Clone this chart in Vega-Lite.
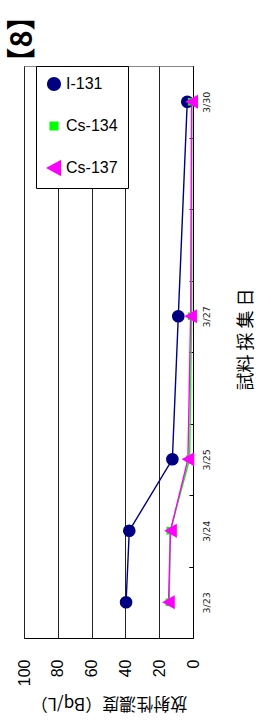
{
  "$schema": "https://vega.github.io/schema/vega-lite/v6.json",
  "autosize": "none",
  "width": 169,
  "height": 572,
  "padding": {"left": 24, "top": 66, "right": 78, "bottom": 82},
  "background": "white",
  "title": {
    "text": "【8】",
    "orient": "top",
    "anchor": "start",
    "angle": -90,
    "align": "right",
    "baseline": "middle",
    "offset": 6,
    "dx": -17,
    "dy": 7,
    "font": "Noto Sans CJK JP",
    "fontSize": 29,
    "fontWeight": "bold",
    "color": "black"
  },
  "data": {
    "values": [
      {"series": "I-131", "date": "3/23", "value": 39.6},
      {"series": "I-131", "date": "3/24", "value": 37.7},
      {"series": "I-131", "date": "3/25", "value": 12.2},
      {"series": "I-131", "date": "3/27", "value": 8.7},
      {"series": "I-131", "date": "3/30", "value": 3.4},
      {"series": "Cs-134", "date": "3/23", "value": 14},
      {"series": "Cs-134", "date": "3/24", "value": 13.5},
      {"series": "Cs-134", "date": "3/25", "value": 2},
      {"series": "Cs-134", "date": "3/27", "value": 0.8},
      {"series": "Cs-134", "date": "3/30", "value": 0.8},
      {"series": "Cs-137", "date": "3/23", "value": 14.5},
      {"series": "Cs-137", "date": "3/24", "value": 13.3},
      {"series": "Cs-137", "date": "3/25", "value": 3},
      {"series": "Cs-137", "date": "3/27", "value": 1.4},
      {"series": "Cs-137", "date": "3/30", "value": 0.8}
    ]
  },
  "encoding": {
    "y": {
      "field": "date",
      "type": "ordinal",
      "scale": {
        "type": "band",
        "domain": ["3/23", "3/24", "3/25", "3/26", "3/27", "3/28", "3/29", "3/30"],
        "reverse": true,
        "paddingInner": 0,
        "paddingOuter": 0
      },
      "axis": {
        "orient": "right",
        "title": "試料 採 集 日",
        "titleAngle": 270,
        "titleFont": "Noto Sans CJK JP",
        "titleFontSize": 18,
        "titleFontWeight": "normal",
        "titleColor": "black",
        "titlePadding": 45,
        "titleY": 273,
        "labelExpr": "indexof(['3/26','3/28','3/29'], datum.value) >= 0 ? '' : datum.value",
        "labelAngle": 270,
        "labelAlign": "center",
        "labelBaseline": "middle",
        "labelFont": "DejaVu Sans",
        "labelFontSize": 9.5,
        "labelColor": "#222",
        "labelPadding": 17,
        "tickBand": "extent",
        "tickSize": -4,
        "tickColor": "black",
        "domainColor": "black",
        "grid": false
      }
    },
    "x": {
      "field": "value",
      "type": "quantitative",
      "scale": {"domain": [0, 100], "reverse": true, "nice": false},
      "axis": {
        "orient": "bottom",
        "values": [0, 20, 40, 60, 80, 100],
        "title": "放射性濃度（Bq/L）",
        "titleAngle": 180,
        "titleBaseline": "bottom",
        "titleFont": "Noto Sans CJK JP",
        "titleFontSize": 17,
        "titleFontWeight": "normal",
        "titleColor": "black",
        "titlePadding": 8,
        "labelAngle": 270,
        "labelFont": "Liberation Sans",
        "labelFontSize": 16,
        "labelColor": "black",
        "labelPadding": 21,
        "ticks": false,
        "grid": true,
        "gridColor": "#222",
        "gridWidth": 1,
        "domainColor": "black"
      }
    },
    "color": {
      "field": "series",
      "type": "nominal",
      "scale": {"domain": ["I-131", "Cs-134", "Cs-137"], "range": ["#000080", "#00FF00", "#FF00FF"]},
      "legend": {
        "title": null,
        "orient": "none",
        "legendX": 12,
        "legendY": 0,
        "fillColor": "white",
        "strokeColor": "black",
        "padding": 10,
        "labelFont": "Liberation Sans",
        "labelFontSize": 16,
        "labelColor": "black",
        "symbolSize": 160,
        "rowPadding": 24
      }
    },
    "order": {"field": "date"}
  },
  "layer": [
    {"mark": {"type": "line", "strokeWidth": 1.4}},
    {
      "mark": {"type": "point", "filled": true, "opacity": 1, "size": 160},
      "encoding": {
        "shape": {
          "field": "series",
          "type": "nominal",
          "scale": {
            "domain": ["I-131", "Cs-134", "Cs-137"],
            "range": ["circle", "M-0.6,-0.6L0.6,-0.6L0.6,0.6L-0.6,0.6Z", "M-1,0L1,-1.1L1,1.1Z"]
          },
          "legend": null
        }
      }
    }
  ],
  "config": {
    "view": {"stroke": "#888"}
  }
}
